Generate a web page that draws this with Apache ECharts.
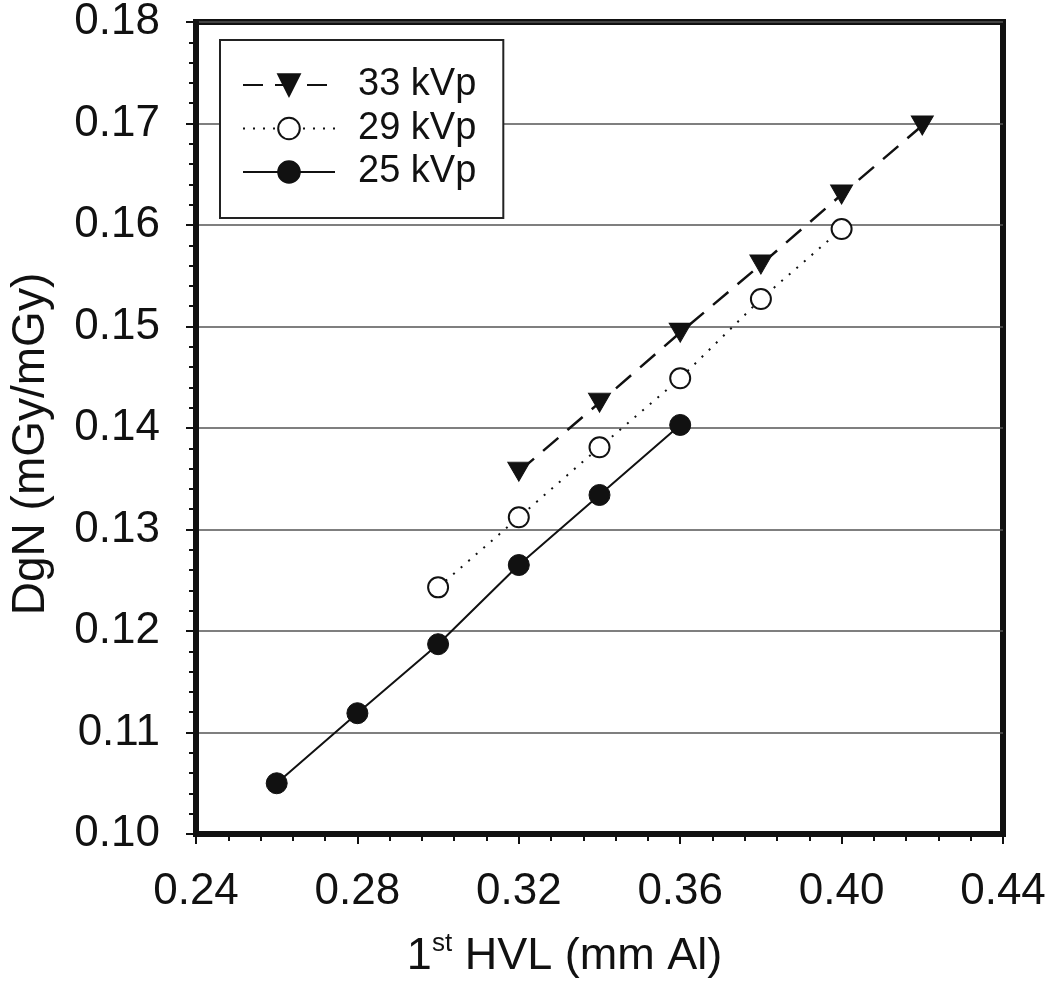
<!DOCTYPE html>
<html>
<head>
<meta charset="utf-8">
<script src="https://cdn.jsdelivr.net/npm/echarts@6/dist/echarts.min.js"></script>
<style>html,body{margin:0;padding:0;background:#fff;}#c{width:1050px;height:984px;}</style>
</head>
<body>
<div id="c"></div>
<script>
const hvl33 = [0.32, 0.34, 0.36, 0.38, 0.40, 0.42];
const dgn33 = [0.1357, 0.1425, 0.1494, 0.1561, 0.1630, 0.1698];
const hvl29 = [0.30, 0.32, 0.34, 0.36, 0.38, 0.40];
const dgn29 = [0.1243, 0.1312, 0.1381, 0.1449, 0.1527, 0.1596];
const hvl25 = [0.26, 0.28, 0.30, 0.32, 0.34, 0.36];
const dgn25 = [0.1050, 0.1119, 0.1187, 0.1265, 0.1334, 0.1403];
const seriesNames = ['33 kVp', '29 kVp', '25 kVp'];
const xTitle = 'HVL (mm Al)';
const yTitle = 'DgN (mGy/mGy)';

const zip = (a, b) => a.map((v, i) => [v, b[i]]);
const FONT = '"Liberation Sans", Arial, sans-serif';

const chart = echarts.init(document.getElementById('c'));
chart.setOption({
  animation: false,
  backgroundColor: '#fff',
  textStyle: { fontFamily: FONT, color: '#111' },
  grid: { left: 190, right: 47, top: 18, bottom: 149, show: true, borderColor: '#111', borderWidth: 6, backgroundColor: 'transparent' },
  legend: {
    left: 220, top: 40, orient: 'vertical',
    backgroundColor: '#fff', borderColor: '#222', borderWidth: 2,
    padding: [26, 27, 27, 22],
    itemWidth: 92, itemHeight: 27, itemGap: 5.5,
    textStyle: { fontSize: 38, color: '#111', fontFamily: FONT, lineHeight: 38, padding: [0, 0, 0, 18] },
    data: seriesNames
  },
  xAxis: {
    type: 'value', min: 0.24, max: 0.44, interval: 0.04,
    axisLine: { show: true, lineStyle: { color: '#111', width: 6 } },
    axisTick: { show: true, inside: false, length: 10, lineStyle: { color: '#111', width: 2 } },
    minorTick: { show: true, splitNumber: 5, length: 7, lineStyle: { color: '#111', width: 2 } },
    splitLine: { show: false },
    axisLabel: { fontSize: 44, color: '#111', margin: 36, formatter: v => v.toFixed(2), fontFamily: FONT },
    name: '{a|1}{s|st}{a| ' + xTitle + '}',
    nameLocation: 'middle', nameGap: 97,
    nameTextStyle: { padding: [0, 70, 0, 0], rich: { a: { fontSize: 45, color: '#111', fontFamily: FONT, verticalAlign: 'bottom', lineHeight: 48 }, s: { fontSize: 26, color: '#111', fontFamily: FONT, verticalAlign: 'top', lineHeight: 48, padding: [0, 0, 18, 0] } } }
  },
  yAxis: {
    type: 'value', min: 0.10, max: 0.18, interval: 0.01,
    axisLine: { show: true, lineStyle: { color: '#111', width: 6 } },
    axisTick: { show: true, inside: false, length: 10, lineStyle: { color: '#111', width: 2 } },
    minorTick: { show: true, splitNumber: 5, length: 7, lineStyle: { color: '#111', width: 2 } },
    splitLine: { show: true, lineStyle: { color: '#555', width: 1.5 } },
    axisLabel: { fontSize: 44, color: '#111', margin: 36, formatter: v => v.toFixed(2), fontFamily: FONT },
    name: yTitle, nameLocation: 'middle', nameGap: 142,
    nameTextStyle: { fontSize: 46, color: '#111', fontFamily: FONT, padding: [0, 32, 0, 0] }
  },
  series: [
    {
      name: seriesNames[0], type: 'line', data: zip(hvl33, dgn33),
      symbol: 'triangle', symbolRotate: 180, symbolSize: [22, 19],
      lineStyle: { color: '#111', width: 2.5, type: [20, 12] },
      itemStyle: { color: '#111', borderColor: '#111', borderWidth: 1 }, z: 3
    },
    {
      name: seriesNames[1], type: 'line', data: zip(hvl29, dgn29),
      symbol: 'circle', symbolSize: 20,
      lineStyle: { color: '#111', width: 2, type: [2, 8] },
      itemStyle: { color: '#fff', borderColor: '#111', borderWidth: 2 }, z: 3
    },
    {
      name: seriesNames[2], type: 'line', data: zip(hvl25, dgn25),
      symbol: 'circle', symbolSize: 21,
      lineStyle: { color: '#111', width: 2 },
      itemStyle: { color: '#111', borderColor: '#111', borderWidth: 1 }, z: 3
    }
  ]
});
</script>
</body>
</html>
